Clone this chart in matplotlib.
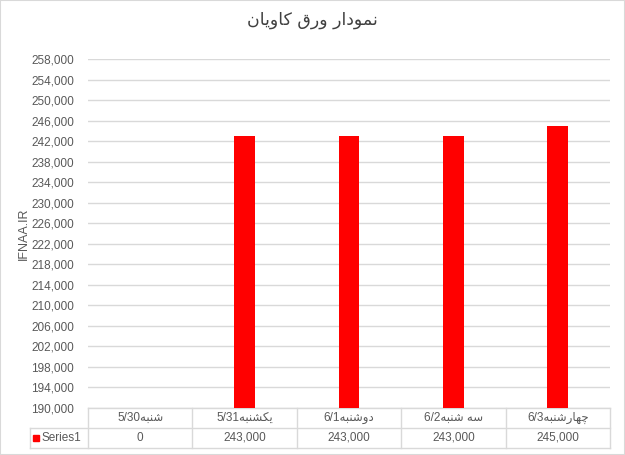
import matplotlib
matplotlib.use("Agg")
import matplotlib.pyplot as plt
from matplotlib.patches import Rectangle

# data
days_fa = ["شنبه", "یکشنبه", "دوشنبه", "سه شنبه", "چهارشنبه"]
dates = ["5/30", "5/31", "6/1", "6/2", "6/3"]
values = [0, 243000, 243000, 243000, 245000]
title_fa = "نمودار ورق کاویان"
series_name = "Series1"
y_label = "IFNAA.IR"
y_min, y_max, y_step = 190000, 258000, 4000

# simple arabic/persian shaping (matplotlib has no complex text layout)
# char: (isolated, final, initial, medial) ; right-joining letters only have 2
forms = {
    "ا": ("\uFE8D", "\uFE8E"),
    "د": ("\uFEA9", "\uFEAA"),
    "ر": ("\uFEAD", "\uFEAE"),
    "و": ("\uFEED", "\uFEEE"),
    "ب": ("\uFE8F", "\uFE90", "\uFE91", "\uFE92"),
    "س": ("\uFEB1", "\uFEB2", "\uFEB3", "\uFEB4"),
    "ش": ("\uFEB5", "\uFEB6", "\uFEB7", "\uFEB8"),
    "ق": ("\uFED5", "\uFED6", "\uFED7", "\uFED8"),
    "م": ("\uFEE1", "\uFEE2", "\uFEE3", "\uFEE4"),
    "ن": ("\uFEE5", "\uFEE6", "\uFEE7", "\uFEE8"),
    "ه": ("\uFEE9", "\uFEEA", "\uFEEB", "\uFEEC"),
    "ک": ("\uFB8E", "\uFB8F", "\uFB90", "\uFB91"),
    "ی": ("\uFBFC", "\uFBFD", "\uFBFE", "\uFBFF"),
    "چ": ("\uFB7A", "\uFB7B", "\uFB7C", "\uFB7D"),
}

def shape(s):
    out = []
    for i, c in enumerate(s):
        if c not in forms:
            out.append(c)
            continue
        prev = s[i-1] if i > 0 else None
        nxt = s[i+1] if i < len(s)-1 else None
        join_prev = prev in forms and len(forms[prev]) == 4
        join_next = len(forms[c]) == 4 and nxt in forms
        f = forms[c]
        if join_prev and join_next:
            out.append(f[3])
        elif join_prev:
            out.append(f[1])
        elif join_next:
            out.append(f[2])
        else:
            out.append(f[0])
    return "".join(out[::-1])

plt.rcParams['font.family'] = ['Liberation Sans', 'DejaVu Sans']
txt = "#595959"
grid = "#d9d9d9"

fig = plt.figure(figsize=(6.25, 4.55), dpi=100)
fig.patches.append(Rectangle((0, 0), 1, 1, transform=fig.transFigure,
                             fill=False, edgecolor=grid, lw=1.5))
ax = fig.add_axes([88/625, 1-408/455, 522/625, 349/455])

x = list(range(len(values)))
ax.bar(x, values, width=0.2, color="#ff0000", zorder=3)
ax.set_xlim(-0.5, len(values)-0.5)
ax.set_ylim(y_min, y_max)
ax.set_yticks(range(y_min, y_max+1, y_step))
ax.set_yticklabels([f"{v:,}" for v in range(y_min, y_max+1, y_step)])
ax.tick_params(axis='y', length=0, pad=10, labelsize=8.5, labelcolor=txt)
ax.set_xticks([])
ax.yaxis.grid(True, color=grid, lw=1)
for s in ax.spines.values():
    s.set_visible(False)
ax.set_ylabel(y_label, color=txt, fontsize=9, labelpad=1)
fig.text(0.5, 1-20/455, shape(title_fa), ha='center', va='center',
         fontsize=12.5, color="#404040", family='DejaVu Sans')

# data table under the plot
tr = ax.get_xaxis_transform()
rh = 20/349
hx = (30-88)/(522/5) - 0.5
n = len(values)
ax.plot([-0.5, n-0.5], [0, 0], color=grid, lw=1, transform=tr, clip_on=False)
ax.plot([hx, n-0.5], [-rh, -rh], color=grid, lw=1, transform=tr, clip_on=False)
ax.plot([hx, n-0.5], [-2*rh, -2*rh], color=grid, lw=1, transform=tr, clip_on=False)
ax.plot([hx, hx], [-rh, -2*rh], color=grid, lw=1, transform=tr, clip_on=False)
for k in range(n+1):
    ax.plot([k-0.5, k-0.5], [0, -2*rh], color=grid, lw=1, transform=tr, clip_on=False)
for i in range(n):
    ax.text(i, -rh/2, dates[i] + shape(days_fa[i]), transform=tr, ha='center',
            va='center', fontsize=8.5, color=txt)
    ax.text(i, -1.5*rh, f"{values[i]:,}", transform=tr, ha='center',
            va='center', fontsize=8.5, color=txt)
ax.add_patch(Rectangle((hx + 0.03, -1.5*rh - 0.008), 0.06, 0.016, transform=tr,
                       color="#ff0000", clip_on=False))
ax.text(hx + 0.11, -1.5*rh, series_name, transform=tr, ha='left', va='center',
        fontsize=8.5, color=txt)

fig.savefig("out.png", dpi=100)
